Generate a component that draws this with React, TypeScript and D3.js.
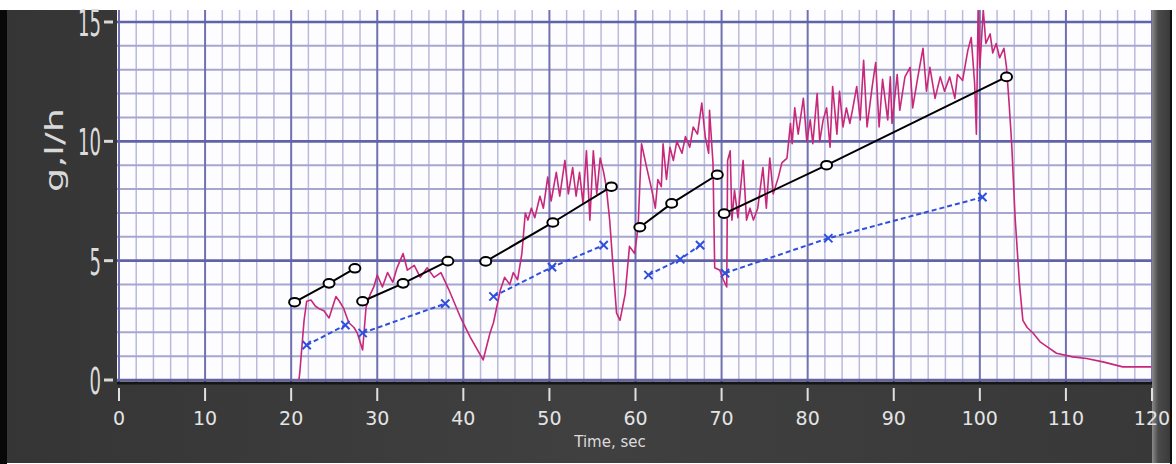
import * as d3 from "d3";

const W = 1176;
const H = 464;

// flow rate trace, [time sec, g l/h]
const flowTrace: [number, number][] = [
  [20.9, 0], [21.0, 0.3], [21.5, 2.5], [21.8, 3.3], [22.3, 3.35], [22.8, 3.1], [23.2, 3.0], [23.8, 2.9],
  [24.4, 2.6], [25.2, 3.5], [25.6, 3.3], [26.1, 3.0], [26.7, 2.4], [27.3, 2.2], [27.7, 1.95], [28.3, 1.26],
  [28.7, 3.05], [29.2, 3.6], [29.6, 3.9], [30.0, 4.4], [30.6, 3.9], [31.2, 4.5], [31.8, 4.1], [32.3, 4.7],
  [33.0, 5.3], [33.5, 4.6], [34.3, 4.8], [35.0, 4.3], [35.8, 4.7], [36.6, 4.3], [37.4, 4.5], [38.3, 3.8],
  [39.7, 2.6], [40.8, 1.8], [42.3, 0.84], [43.1, 1.97], [43.5, 2.4], [44.3, 3.77], [44.8, 4.3], [45.4, 4.0],
  [45.8, 4.5], [46.3, 4.2], [46.8, 5.3], [47.2, 7.0], [47.5, 6.7], [47.9, 7.2], [48.3, 6.8], [48.9, 7.7],
  [49.3, 7.2], [49.8, 8.5], [50.2, 7.5], [50.8, 8.7], [51.2, 7.7], [51.8, 9.2], [52.2, 7.8], [52.7, 8.9],
  [53.1, 7.7], [53.5, 8.7], [53.9, 7.4], [54.3, 9.6], [54.7, 6.7], [55.1, 9.6], [55.5, 7.8], [55.9, 9.3],
  [56.3, 8.7], [56.6, 8.1], [57.0, 6.7], [57.4, 4.7], [57.8, 2.8], [58.2, 2.5], [58.8, 3.6], [59.3, 5.6],
  [59.9, 5.3], [60.3, 6.4], [60.7, 9.9], [61.3, 8.9], [61.9, 7.95], [62.3, 7.2], [62.6, 8.4], [63.0, 8.1],
  [63.2, 9.9], [63.6, 8.4], [64.0, 9.75], [64.4, 9.2], [64.8, 10.0], [65.4, 9.5], [65.8, 10.2], [66.3, 9.75],
  [66.7, 10.6], [67.2, 10.3], [67.7, 11.6], [68.1, 10.2], [68.5, 9.5], [68.6, 11.3], [69.0, 9.1], [69.2, 4.7],
  [69.8, 4.6], [70.2, 4.2], [70.6, 3.9], [70.7, 9.2], [71.0, 9.6], [71.2, 6.7], [71.5, 7.95], [71.9, 6.8],
  [72.5, 9.2], [72.9, 6.7], [73.3, 7.2], [73.7, 6.7], [74.2, 7.2], [74.8, 8.9], [75.2, 7.2], [75.6, 9.3],
  [76.0, 7.8], [76.6, 8.5], [77.0, 9.1], [77.6, 9.3], [78.0, 10.75], [78.2, 9.9], [78.5, 11.4], [78.9, 10.3],
  [79.5, 11.8], [79.9, 10.0], [80.3, 10.9], [80.6, 9.9], [81.1, 12.0], [81.4, 10.0], [81.8, 10.9], [82.2, 11.4],
  [82.6, 9.75], [82.9, 12.3], [83.4, 10.3], [83.7, 12.1], [84.1, 10.6], [84.5, 11.4], [84.9, 10.75], [85.2, 11.3],
  [85.7, 12.3], [86.1, 10.9], [86.5, 13.4], [86.9, 10.6], [87.5, 12.3], [87.9, 13.3], [88.3, 10.6], [88.7, 12.6],
  [89.3, 10.9], [89.6, 12.7], [89.8, 10.75], [90.4, 12.8], [90.7, 11.3], [91.3, 12.7], [91.9, 13.1], [92.2, 11.4],
  [92.8, 12.7], [93.4, 13.9], [93.8, 12.1], [94.2, 13.1], [94.8, 11.8], [95.4, 12.7], [95.9, 12.1], [96.5, 12.7],
  [97.1, 11.8], [97.4, 12.8], [98.0, 12.55], [98.6, 13.8], [99.0, 14.35], [99.4, 12.4], [99.6, 10.3], [99.8, 15.5],
  [100.0, 13.1], [100.4, 15.5], [100.7, 14.1], [101.2, 14.5], [101.5, 13.7], [101.9, 14.1], [102.3, 13.5], [102.8, 13.9],
  [103.1, 13.1], [103.4, 11.6], [103.7, 9.9], [104.1, 6.8], [104.6, 4.05], [105.0, 2.5], [105.5, 2.2], [106.2, 1.96],
  [107.0, 1.6], [107.8, 1.4], [108.9, 1.12], [110.8, 0.97], [112.4, 0.9], [114.3, 0.76], [116.6, 0.55], [119.9, 0.55],
];

// black fitted lines with circle markers
const fitSegments: [number, number][][] = [
  [[20.4, 3.26], [24.4, 4.05], [27.4, 4.68]],
  [[28.3, 3.3], [33.0, 4.05], [38.2, 4.98]],
  [[42.6, 4.97], [50.4, 6.6], [57.2, 8.1]],
  [[60.5, 6.4], [64.2, 7.4], [69.5, 8.6]],
  [[70.3, 6.97], [82.2, 9.0], [103.1, 12.7]],
];

// blue dashed lines with x markers
const modelSegments: [number, number][][] = [
  [[21.8, 1.46], [26.3, 2.3]],
  [[28.3, 1.97], [37.9, 3.2]],
  [[43.5, 3.5], [50.3, 4.73], [56.3, 5.65]],
  [[61.5, 4.4], [65.2, 5.06], [67.5, 5.65]],
  [[70.4, 4.48], [82.4, 5.94], [100.3, 7.66]],
];

const xTickLabels = [0, 10, 20, 30, 40, 50, 60, 70, 80, 90, 100, 110, 120];
const yTickLabels = [0, 5, 10, 15];

const PLOT = { left: 117, right: 1152, top: 10, bottom: 382 };

export default function App() {
  const x = d3.scaleLinear().domain([0, 120]).range([119, 1152]);
  const y = d3.scaleLinear().domain([0, 15]).range([380, 22]);

  const line = d3
    .line<[number, number]>()
    .x((d) => x(d[0]))
    .y((d) => y(d[1]));

  const xGrid = d3.range(0, 121, 2);
  const yGrid = d3.range(0, 16, 1);
  const cross = d3.symbol().type(d3.symbolX).size(46)();

  return (
    <svg width={W} height={H} style={{ position: "absolute", left: 0, top: 0 }}>
      <defs>
        <linearGradient id="panel" x1="0" x2="1" y1="0" y2="0">
          <stop offset="0" stopColor="#353535" />
          <stop offset="0.5" stopColor="#404040" />
          <stop offset="1" stopColor="#383838" />
        </linearGradient>
        <linearGradient id="rightStrip" x1="0" x2="1" y1="0" y2="0">
          <stop offset="0" stopColor="#8a8a8a" />
          <stop offset="0.35" stopColor="#4a4a4a" />
          <stop offset="1" stopColor="#3a3a3a" />
        </linearGradient>
        <clipPath id="plotClip">
          <rect x={PLOT.left} y={PLOT.top} width={PLOT.right - PLOT.left} height={PLOT.bottom - PLOT.top} />
        </clipPath>
      </defs>

      <rect x={0} y={0} width={W} height={H} fill="#ffffff" />
      <rect x={0} y={10} width={1170} height={453} fill="url(#panel)" />
      <rect x={0} y={10} width={7} height={454} fill="#080808" />
      <rect x={PLOT.right} y={10} width={18} height={453} fill="url(#rightStrip)" />
      <rect x={1170} y={10} width={2} height={454} fill="#111" />

      {/* plot area */}
      <rect
        x={PLOT.left}
        y={PLOT.top}
        width={PLOT.right - PLOT.left}
        height={PLOT.bottom - PLOT.top}
        fill="#fdfdff"
      />
      <g clipPath="url(#plotClip)">
        {xGrid.filter((v) => v % 10 !== 0).map((v) => (
          <line key={"vx" + v} x1={x(v)} x2={x(v)} y1={PLOT.top} y2={PLOT.bottom} stroke="#babadd" strokeWidth={1.5} />
        ))}
        {yGrid.filter((v) => v % 5 !== 0).map((v) => (
          <line key={"hy" + v} x1={PLOT.left} x2={PLOT.right} y1={y(v)} y2={y(v)} stroke="#a6a6cf" strokeWidth={2} />
        ))}
        {xGrid.filter((v) => v % 10 === 0).map((v) => (
          <line key={"Vx" + v} x1={x(v)} x2={x(v)} y1={PLOT.top} y2={PLOT.bottom} stroke="#7070b2" strokeWidth={2} />
        ))}
        {yGrid.filter((v) => v % 5 === 0).map((v) => (
          <line key={"Hy" + v} x1={PLOT.left} x2={PLOT.right} y1={y(v)} y2={y(v)} stroke="#6262a8" strokeWidth={2.6} />
        ))}

        <path d={line(flowTrace) ?? ""} fill="none" stroke="#c8287a" strokeWidth={1.6} strokeLinejoin="round" />

        {modelSegments.map((seg, i) => (
          <g key={"m" + i}>
            <path d={line(seg) ?? ""} fill="none" stroke="#2f4fdc" strokeWidth={2} strokeDasharray="5,3" />
            {seg.map((p, j) => (
              <path
                key={j}
                d={cross ?? ""}
                transform={`translate(${x(p[0])},${y(p[1])})`}
                fill="none"
                stroke="#2f4fdc"
                strokeWidth={2}
              />
            ))}
          </g>
        ))}

        {fitSegments.map((seg, i) => (
          <g key={"f" + i}>
            <path d={line(seg) ?? ""} fill="none" stroke="#000" strokeWidth={2} />
            {seg.map((p, j) => (
              <ellipse key={j} cx={x(p[0])} cy={y(p[1])} rx={5.5} ry={4.3} fill="#fff" stroke="#000" strokeWidth={2} />
            ))}
          </g>
        ))}
      </g>
      <line x1={PLOT.left} x2={PLOT.right} y1={PLOT.bottom + 1} y2={PLOT.bottom + 1} stroke="#151515" strokeWidth={3} />

      {/* y axis */}
      {yTickLabels.map((v) => (
        <g key={"yt" + v}>
          <line x1={104} x2={113} y1={y(v)} y2={y(v)} stroke="#d8d8d8" strokeWidth={3} />
          <text
            x={101}
            y={y(v) + 14}
            textAnchor="end"
            fontFamily="DejaVu Sans"
            fontSize={38}
            fill="#dcdcdc"
            textLength={String(v).length * 11.5}
            lengthAdjust="spacingAndGlyphs"
          >
            {v}
          </text>
        </g>
      ))}
      <text
        transform={`translate(63,150) rotate(-90)`}
        textAnchor="middle"
        fontFamily="DejaVu Sans"
        fontSize={25}
        fill="#d8d8d8"
        textLength={84}
        lengthAdjust="spacingAndGlyphs"
      >
        g,l/h
      </text>

      {/* x axis */}
      {xTickLabels.map((v) => (
        <g key={"xt" + v}>
          <line x1={x(v)} x2={x(v)} y1={388} y2={401} stroke="#e0e0e0" strokeWidth={2} />
          <text x={x(v)} y={425} textAnchor="middle" fontFamily="DejaVu Sans" fontSize={19} fill="#e4e4e4">
            {v}
          </text>
        </g>
      ))}
      <text x={610} y={447} textAnchor="middle" fontFamily="DejaVu Sans" fontSize={15} fill="#dcdcdc">
        Time, sec
      </text>
    </svg>
  );
}
